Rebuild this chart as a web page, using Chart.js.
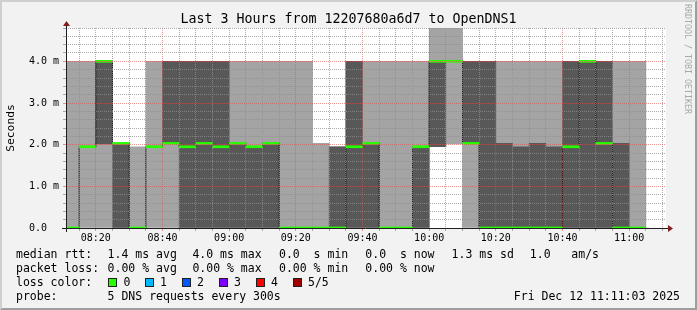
<!DOCTYPE html>
<html>
<head>
<meta charset="utf-8">
<title>Last 3 Hours from 12207680a6d7 to OpenDNS1</title>
<script src="https://cdn.jsdelivr.net/npm/chart.js@4.4.1/dist/chart.umd.min.js"></script>
<style>
  html, body { margin: 0; padding: 0; background: #f2f2f2; }
  #graph { position: relative; width: 697px; height: 310px; overflow: hidden; font-family: 'DejaVu Sans Mono', monospace; }
  #graph canvas { position: absolute; left: 0; top: 0; }
  .txt { position: absolute; white-space: pre; line-height: 0; color: #000; font-size: 11.5px; }
  #titulo { left: 0; width: 697px; top: 19.1px; text-align: center; font-size: 13.3px; }
  #marca { position: absolute; left: 683.8px; top: 4px; writing-mode: vertical-rl; font-size: 8.3px; line-height: 8.3px; color: #a9a9a9; white-space: pre; }
  .caixa { position: absolute; top: 278px; width: 9px; height: 9px; box-sizing: border-box; border: 1px solid #202020; }
</style>
</head>
<body>
<div id="graph">
  <canvas id="grafico" width="697" height="310"></canvas>
  <div class="txt" id="titulo">Last 3 Hours from 12207680a6d7 to OpenDNS1</div>
  <div id="marca">RRDTOOL / TOBI OETIKER</div>

  <div class="txt" style="left:16px;top:254px">median rtt:</div>
  <div class="txt" style="left:107.6px;top:254px">1.4 ms avg</div>
  <div class="txt" style="left:192.4px;top:254px">4.0 ms max</div>
  <div class="txt" style="left:279px;top:254px">0.0  s min</div>
  <div class="txt" style="left:365.3px;top:254px">0.0  s now</div>
  <div class="txt" style="left:451.6px;top:254px">1.3 ms sd</div>
  <div class="txt" style="left:529.8px;top:254px">1.0   am/s</div>

  <div class="txt" style="left:16px;top:268px">packet loss:</div>
  <div class="txt" style="left:107.6px;top:268px">0.00 % avg</div>
  <div class="txt" style="left:192.4px;top:268px">0.00 % max</div>
  <div class="txt" style="left:279px;top:268px">0.00 % min</div>
  <div class="txt" style="left:365.3px;top:268px">0.00 % now</div>

  <div class="txt" style="left:16px;top:282px">loss color:</div>
  <div class="caixa" style="left:108px;background:#26ff00"></div>
  <div class="txt" style="left:123.6px;top:282px">0</div>
  <div class="caixa" style="left:145px;background:#00b8ff"></div>
  <div class="txt" style="left:160px;top:282px">1</div>
  <div class="caixa" style="left:182px;background:#0059ff"></div>
  <div class="txt" style="left:197px;top:282px">2</div>
  <div class="caixa" style="left:219px;background:#7e00ff"></div>
  <div class="txt" style="left:234px;top:282px">3</div>
  <div class="caixa" style="left:256px;background:#ff0000"></div>
  <div class="txt" style="left:271px;top:282px">4</div>
  <div class="caixa" style="left:293px;background:#a10000"></div>
  <div class="txt" style="left:308px;top:282px">5/5</div>

  <div class="txt" style="left:16px;top:296px">probe:</div>
  <div class="txt" style="left:107.6px;top:296px">5 DNS requests every 300s</div>
  <div class="txt" style="right:17px;top:296px">Fri Dec 12 11:11:03 2025</div>
</div>

<script>
// 5 minute steps, start time of each step
const slots = ['08:10', '08:15', '08:20', '08:25', '08:30', '08:35', '08:40', '08:45', '08:50', '08:55',
               '09:00', '09:05', '09:10', '09:15', '09:20', '09:25', '09:30', '09:35', '09:40', '09:45',
               '09:50', '09:55', '10:00', '10:05', '10:10', '10:15', '10:20', '10:25', '10:30', '10:35',
               '10:40', '10:45', '10:50', '10:55', '11:00'];

// the 5 sorted pings of each step (ms)
const pingMin = [0, 0, 0, 0, 0, 0, 0, 0, 0, 0, 0, 0, 0, 0, 0, 0, 0, 0, 0, 0, 0, 0,
                 1.95, 2.02, 0, 0, 0, 0, 0, 0, 0, 0, 0, 0, 0];
const ping2   = [0, 1.95, 2.02, 0, 0, 1.95, 2.03, 0, 0, 0, 0, 0, 0, 0, 0, 0, 0, 0, 0, 0, 0, 0,
                 1.95, 4.0, 2.03, 0, 0, 0, 0, 0, 0, 0, 0, 0, 0];
const median  = [0, 1.95, 4.0, 2.03, 0, 1.95, 2.03, 1.95, 2.03, 1.95, 2.03, 1.95, 2.03, 0, 0, 0, 0,
                 1.95, 2.03, 0, 0, 1.95, 4.0, 4.0, 2.03, 0, 0, 0, 0, 0, 1.95, 4.0, 2.03, 0, 0];
const ping4   = [0, 1.95, 4.0, 2.03, 0, 1.95, 4.0, 4.0, 4.0, 4.0, 2.03, 1.95, 2.03, 0, 0, 0, 1.95,
                 4.0, 2.03, 0, 0, 1.95, 4.0, 4.0, 4.0, 4.0, 2.03, 1.95, 2.03, 1.95, 4.0, 4.0, 4.0, 2.03, 0];
const pingMax = [4, 4, 4, 2.03, 1.95, 4, 4, 4, 4, 4, 4, 4, 4, 4, 4, 2.03, 1.95, 4, 4, 4, 4, 4,
                 6.1, 6.1, 4, 4, 4, 4, 4, 4, 4, 4, 4, 4, 4];

const xLabels = ['08:20', '08:40', '09:00', '09:20', '09:40', '10:00', '10:20', '10:40', '11:00'];
const yLabels = ['0.0  ', '1.0 m', '2.0 m', '3.0 m', '4.0 m'];

const toMin = t => Number(t.slice(0, 2)) * 60 + Number(t.slice(3, 5)) + (t.length > 5 ? Number(t.slice(6)) / 60 : 0);
const xMin = toMin('08:11:03');
const xMax = xMin + 180;
const step = 5;
const swidth = 0.024;   // one pixel in ms

const GRID = 'rgba(143,143,143,0.75)';
const MGRID = 'rgba(222,80,80,0.6)';

const centro = slots.map(s => toMin(s) + step / 2);
const faixa = (a, b) => slots.map((s, i) => ({ x: centro[i], y: [a[i], b[i]] }));

const linhaMediana = slots.map((s, i) => ({ x: toMin(s), y: median[i] }));
linhaMediana.push({ x: toMin(slots[slots.length - 1]) + step, y: median[median.length - 1] });

const xTicks = [];
for (let m = toMin('08:15'); m < xMax; m += step) xTicks.push({ value: m });
const yTicks = [];
for (let i = 0; i <= 24; i++) yTicks.push({ value: i / 5 });

const moldura = {
  id: 'moldura',
  beforeDraw(chart) {
    const { ctx, chartArea: a, width: w, height: h } = chart;
    ctx.save();
    ctx.fillStyle = '#f2f2f2';
    ctx.fillRect(0, 0, w, h);
    ctx.fillStyle = '#cfcfcf';
    ctx.beginPath();
    ctx.moveTo(0, 0); ctx.lineTo(0, h); ctx.lineTo(2, h - 2); ctx.lineTo(2, 2); ctx.lineTo(w - 2, 2); ctx.lineTo(w, 0);
    ctx.closePath(); ctx.fill();
    ctx.fillStyle = '#9e9e9e';
    ctx.beginPath();
    ctx.moveTo(0, h); ctx.lineTo(w, h); ctx.lineTo(w, 0); ctx.lineTo(w - 2, 2); ctx.lineTo(w - 2, h - 2); ctx.lineTo(2, h - 2);
    ctx.closePath(); ctx.fill();
    ctx.fillStyle = '#ffffff';
    ctx.fillRect(a.left, a.top, a.right - a.left, a.bottom - a.top);
    ctx.restore();
  },
  afterDraw(chart) {
    const { ctx, chartArea: a } = chart;
    const x0 = a.left + 0.5, y0 = a.bottom + 0.5;
    ctx.save();
    ctx.strokeStyle = '#1f1f1f';
    ctx.lineWidth = 1;
    ctx.beginPath();
    ctx.moveTo(a.left - 4, y0); ctx.lineTo(a.right + 3, y0);
    ctx.moveTo(x0, a.bottom + 4); ctx.lineTo(x0, a.top - 3);
    ctx.stroke();
    ctx.fillStyle = '#801f1f';
    ctx.beginPath();
    ctx.moveTo(a.right + 2, y0 - 3.5); ctx.lineTo(a.right + 2, y0 + 3.5); ctx.lineTo(a.right + 7, y0);
    ctx.closePath(); ctx.fill();
    ctx.beginPath();
    ctx.moveTo(x0 - 3.5, a.top - 2); ctx.lineTo(x0 + 3.5, a.top - 2); ctx.lineTo(x0, a.top - 7);
    ctx.closePath(); ctx.fill();
    ctx.restore();
  }
};

const fonte = { family: 'DejaVu Sans Mono', size: 10 };

new Chart(document.getElementById('grafico').getContext('2d'), {
  type: 'bar',
  data: {
    datasets: [
      {
        label: 'median',
        data: slots.map((s, i) => ({ x: centro[i], y: [median[i] - swidth, median[i] + swidth] })),
        backgroundColor: '#26ff00',
        grouped: false, barPercentage: 1, categoryPercentage: 1
      },
      {
        type: 'line',
        label: 'median line',
        data: linhaMediana,
        borderColor: '#202020',
        borderWidth: 1,
        pointRadius: 0,
        stepped: true,
        fill: false
      },
      {
        label: 'smoke inner',
        data: faixa(ping2, ping4),
        backgroundColor: '#585858',
        grouped: false, barPercentage: 1, categoryPercentage: 1
      },
      {
        label: 'smoke outer',
        data: faixa(pingMin, pingMax),
        backgroundColor: '#a4a4a4',
        grouped: false, barPercentage: 1, categoryPercentage: 1
      }
    ]
  },
  options: {
    responsive: false,
    animation: false,
    events: [],
    layout: { padding: { top: 28, right: 31, bottom: 0, left: 0 } },
    plugins: {
      legend: { display: false },
      tooltip: { enabled: false },
      title: { display: false }
    },
    scales: {
      x: {
        type: 'linear',
        bounds: 'data',
        offset: false,
        min: xMin,
        max: xMax,
        afterBuildTicks: s => { s.ticks = xTicks.map(t => ({ value: t.value })); },
        afterFit: s => { s.height = 82; },
        ticks: {
          autoSkip: false, maxRotation: 0, minRotation: 0, padding: 1,
          color: '#000', font: fonte,
          callback: v => (v % 20 === 0 ? xLabels[(v - toMin('08:20')) / 20] : '')
        },
        grid: {
          z: 1,
          offset: false,
          lineWidth: 1,
          color: c => (c.tick && c.tick.value % 20 === 0 ? MGRID : GRID),
          tickColor: c => (c.tick && c.tick.value % 20 === 0 ? MGRID : GRID),
          tickLength: 3
        },
        border: { display: false, dash: [1, 1], z: 1 }
      },
      y: {
        min: 0,
        max: 4.8,
        bounds: 'data',
        afterBuildTicks: s => { s.ticks = yTicks.map(t => ({ value: t.value })); },
        afterFit: s => { s.width = 66; },
        ticks: {
          autoSkip: false, padding: 4,
          color: '#000', font: fonte,
          callback: (v, i) => (i % 5 === 0 ? yLabels[i / 5] : '')
        },
        grid: {
          z: 1,
          lineWidth: 1,
          color: c => (c.index % 5 === 0 ? MGRID : GRID),
          tickColor: c => (c.index % 5 === 0 ? MGRID : GRID),
          tickLength: 3
        },
        border: { display: false, dash: [1, 1], z: 1 },
        title: {
          display: true,
          text: 'Seconds',
          color: '#000',
          font: { family: 'DejaVu Sans Mono', size: 11.3 },
          padding: { top: 4, bottom: 0 }
        }
      }
    }
  },
  plugins: [moldura]
});
</script>
</body>
</html>
